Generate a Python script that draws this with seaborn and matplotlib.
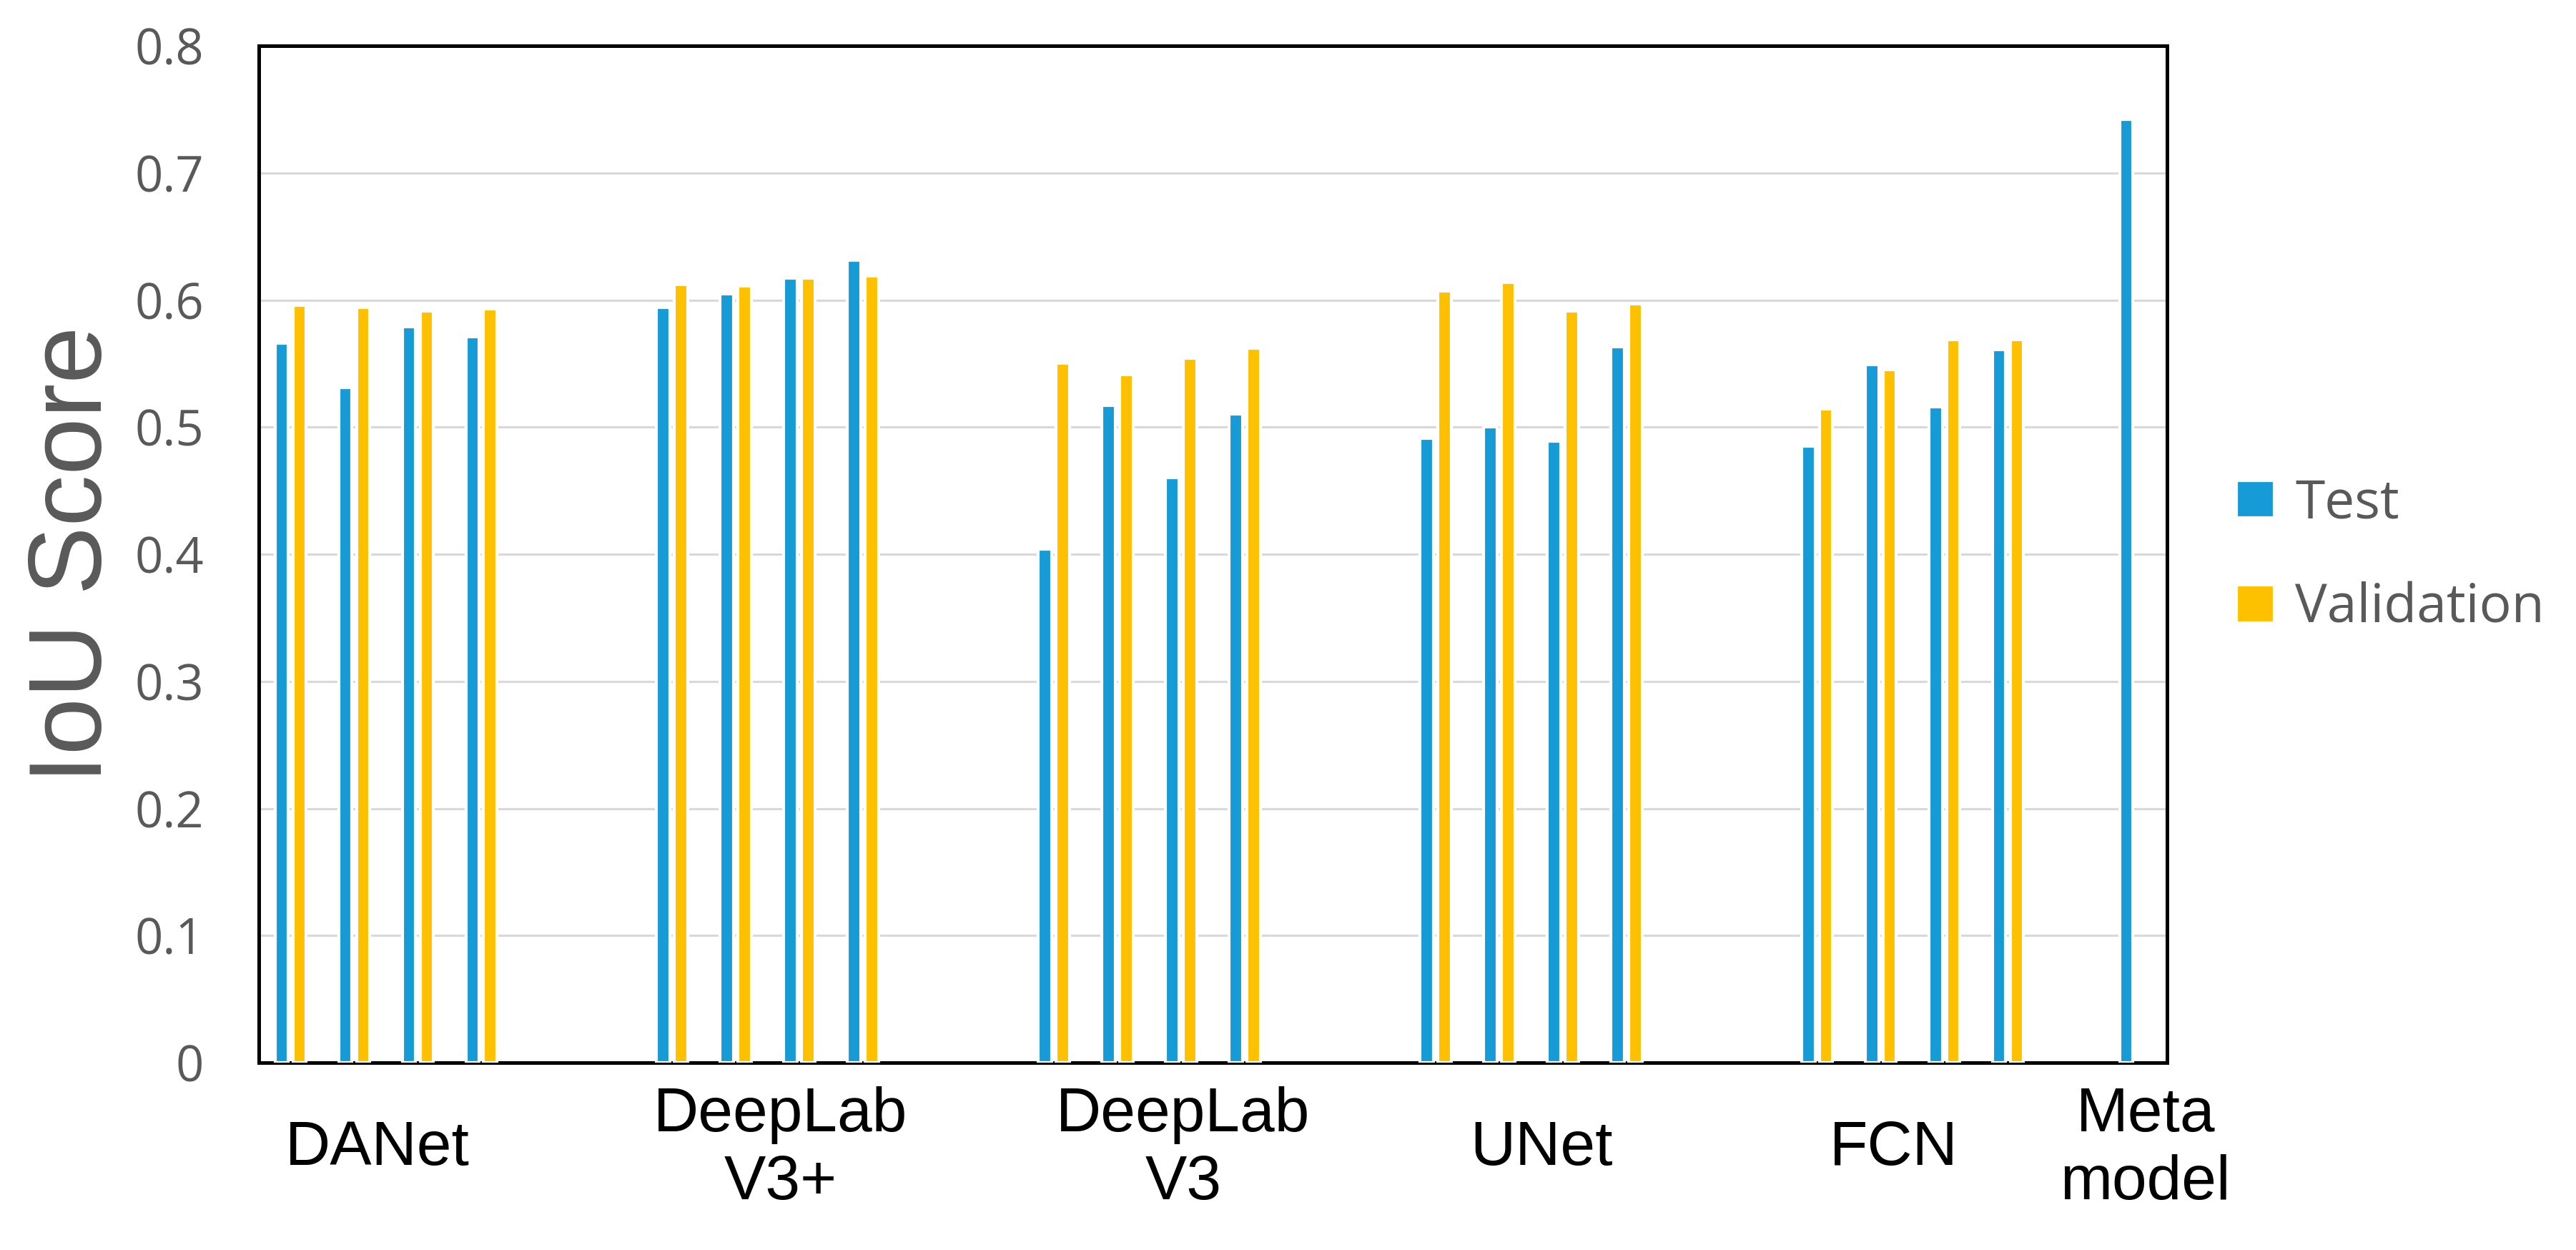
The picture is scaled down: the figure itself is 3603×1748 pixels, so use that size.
import matplotlib
matplotlib.use("Agg")
import matplotlib.pyplot as plt
import seaborn as sns
import pandas as pd

# ---- data ----
groups = ["DANet", "DeepLab\nV3+", "DeepLab\nV3", "UNet", "FCN", "Meta\nmodel"]
series = ["Test", "Validation"]
test_danet = [0.566, 0.531, 0.579, 0.571]
val_danet = [0.596, 0.594, 0.591, 0.593]
test_v3plus = [0.594, 0.605, 0.617, 0.631]
val_v3plus = [0.612, 0.611, 0.617, 0.619]
test_v3 = [0.404, 0.517, 0.460, 0.510]
val_v3 = [0.550, 0.541, 0.554, 0.562]
test_unet = [0.491, 0.500, 0.489, 0.563]
val_unet = [0.607, 0.614, 0.591, 0.597]
test_fcn = [0.485, 0.549, 0.516, 0.561]
val_fcn = [0.514, 0.545, 0.569, 0.569]
test_meta = [0.742]
y_ticks = [0, 0.1, 0.2, 0.3, 0.4, 0.5, 0.6, 0.7, 0.8]
y_tick_labels = ["0", "0.1", "0.2", "0.3", "0.4", "0.5", "0.6", "0.7", "0.8"]

# ---- build table (each model group occupies 4 slots followed by 2 empty slots) ----
rows = []
model_sets = [(test_danet, val_danet), (test_v3plus, val_v3plus), (test_v3, val_v3),
              (test_unet, val_unet), (test_fcn, val_fcn)]
for g, (t, v) in enumerate(model_sets):
    for i in range(4):
        slot = 6 * g + i
        rows.append({"slot": f"s{slot}", "set": "Test", "value": t[i]})
        rows.append({"slot": f"s{slot}", "set": "Validation", "value": v[i]})
rows.append({"slot": "s29", "set": "Test", "value": test_meta[0]})
df = pd.DataFrame(rows)
order = [f"s{i}" for i in range(30)]

# ---- style ----
sns.set_theme(style="white")
plt.rcParams["font.family"] = ["Liberation Sans", "DejaVu Sans"]

fig = plt.figure(figsize=(3603 / 300, 1748 / 300), dpi=300)
ax = fig.add_axes([362 / 3603, 1 - 1486 / 1748, (3031 - 362) / 3603, (1486 - 64) / 1748])

palette = {"Test": "#169BD7", "Validation": "#FFC000"}
sns.barplot(data=df, x="slot", y="value", hue="set", order=order, hue_order=series,
            palette=palette, saturation=1, width=0.56, gap=0.25, ax=ax, zorder=3)

ax.set_xlim(-0.5, 29.5)
ax.set_ylim(0, 0.8)
ax.set_yticks(y_ticks)
ax.set_yticklabels(y_tick_labels, fontfamily="Open Sans", fontsize=16.5, color="#595959")
ax.yaxis.grid(True, color="#D9D9D9", linewidth=0.75, zorder=0)
ax.set_axisbelow(True)
ax.tick_params(axis="y", length=0, pad=18.5)

label_pos = [1.365, 7.70, 14.03, 19.67, 25.2, 29.16]
ax.set_xticks(label_pos)
ax.set_xticklabels(groups, fontsize=21, color="black", linespacing=1.23)
for lab in ax.get_xticklabels():
    lab.set_verticalalignment("center")
ax.tick_params(axis="x", length=0, pad=29)

ax.set_xlabel("")
ax.set_ylabel("IoU Score", fontsize=34.5, color="#595959")
ax.yaxis.set_label_coords(-0.0712, 0.5)

for sp in ax.spines.values():
    sp.set_visible(True)
    sp.set_color("black")
    sp.set_linewidth(1.2)

leg = ax.legend(loc="center left", bbox_to_anchor=(3128 / 3603, 1 - 778 / 1748),
                bbox_transform=fig.transFigure, frameon=False, borderpad=0,
                borderaxespad=0, handlelength=0.7, handleheight=0.7, handletextpad=0.4,
                labelspacing=0.95, prop={"family": "Open Sans", "size": 18})
for txt in leg.get_texts():
    txt.set_color("#595959")

fig.savefig("out.png", dpi=300)
